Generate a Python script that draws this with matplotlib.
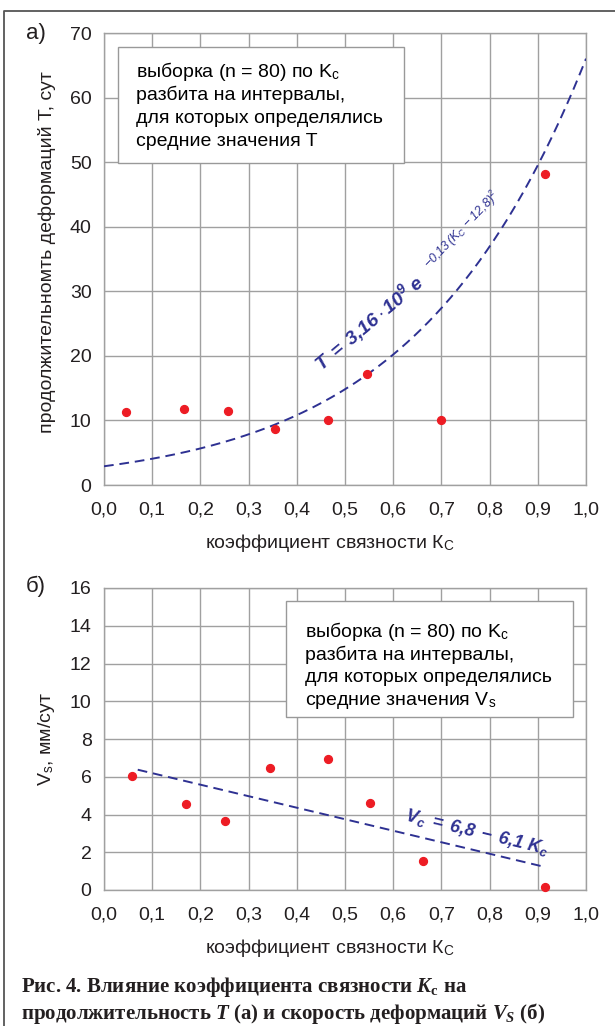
import numpy as np
import matplotlib.pyplot as plt
from matplotlib.patches import Rectangle
from matplotlib.lines import Line2D

plt.rcParams['font.family'] = ['Liberation Sans', 'DejaVu Sans']
plt.rcParams['mathtext.fontset'] = 'custom'
plt.rcParams['mathtext.rm'] = 'Liberation Sans'
plt.rcParams['mathtext.bf'] = 'Liberation Sans:bold:italic'
plt.rcParams['mathtext.tt'] = 'Liberation Sans:italic'
plt.rcParams['mathtext.it'] = 'Liberation Serif:bold:italic'
plt.rcParams['mathtext.sf'] = 'Liberation Serif:bold'

# а) продолжительность T от Kc (средние по интервалам)
kc_a = [0.046, 0.167, 0.258, 0.355, 0.465, 0.546, 0.699, 0.915]
t_a = [11.3, 11.7, 11.4, 8.6, 10.0, 17.2, 10.1, 48.1]
# тренд: ln T = c0 + c1*K + c2*K^2
trend_a_coef = [1.065, 3.40, -0.275]

# б) скорость деформаций Vs от Kc
kc_b = [0.059, 0.171, 0.251, 0.344, 0.465, 0.552, 0.661, 0.914]
vs_b = [6.05, 4.56, 3.63, 6.49, 6.96, 4.63, 1.51, 0.15]
trend_b_coef = [6.8, -6.1]
trend_b_range = [0.07, 0.915]

x_ticks = [0.0, 0.1, 0.2, 0.3, 0.4, 0.5, 0.6, 0.7, 0.8, 0.9, 1.0]
x_ticklabels = ['0,0', '0,1', '0,2', '0,3', '0,4', '0,5', '0,6', '0,7', '0,8', '0,9', '1,0']
y_ticks_a = [0, 10, 20, 30, 40, 50, 60, 70]
y_ticks_b = [0, 2, 4, 6, 8, 10, 12, 14, 16]

box_lines_a = ['выборка (n = 80) по K$_\\mathrm{c}$',
               'разбита на интервалы,',
               'для которых определялись',
               'средние значения T']
box_lines_b = ['выборка (n = 80) по K$_\\mathrm{c}$',
               'разбита на интервалы,',
               'для которых определялись',
               'средние значения V$_\\mathrm{s}$']

NAVY = '#2E3192'
RED = '#ED1C24'
GRID = '#A0A0A0'
INK = '#231F20'
FS = 14

W, H = 615, 1026
fig = plt.figure(figsize=(W / 100, H / 100), dpi=100)


def px(x, y):
    return x / W, 1 - y / H


def setup(ax, yticks):
    ax.set_xlim(0, 1)
    ax.set_ylim(yticks[0], yticks[-1])
    ax.set_xticks(x_ticks)
    ax.set_xticklabels(x_ticklabels)
    ax.set_yticks(yticks)
    ax.tick_params(length=0, labelsize=FS, colors=INK)
    ax.tick_params(axis='x', pad=12)
    ax.tick_params(axis='y', pad=9)
    ax.grid(True, color=GRID, lw=1.0)
    ax.set_axisbelow(True)
    for s in ax.spines.values():
        s.set_color(GRID)
        s.set_linewidth(1.0)


# ---------- a) ----------
ax1 = fig.add_axes([104 / W, 1 - 485 / H, 482 / W, 452 / H])
setup(ax1, y_ticks_a)
xs = np.linspace(0, 1, 200)
ax1.plot(xs, np.exp(trend_a_coef[0] + trend_a_coef[1] * xs + trend_a_coef[2] * xs ** 2),
         color=NAVY, lw=1.4, dashes=(5, 3), zorder=3)
ax1.scatter(kc_a, t_a, s=32, color=RED, zorder=5, clip_on=False)
ax1.add_patch(Rectangle((0.029, 49.8), 0.594, 18.0, facecolor='white',
                        edgecolor='#999999', lw=1.0, zorder=4))
for i, line in enumerate(box_lines_a):
    ax1.text(0.066, 64.05 - i * 3.62, line, fontsize=FS, va='center', zorder=6)
ax1.text(0.45, 17.6, r'$\mathbf{T\ =\ 3{,}16\cdot 10^{9}\ e}$',
         color=NAVY, fontsize=14, rotation=40, rotation_mode='anchor',
         ha='left', va='baseline', zorder=6)
ax1.text(0.676, 33.4, r'$\mathtt{-0{,}13\,(K_C\,-\,12{,}8)^2}$',
         color=NAVY, fontsize=9, rotation=46, rotation_mode='anchor',
         ha='left', va='baseline', zorder=6)

# ---------- б) ----------
ax2 = fig.add_axes([104 / W, 1 - 890 / H, 482 / W, 302 / H])
setup(ax2, y_ticks_b)
xb = np.array(trend_b_range)
ax2.plot(xb, trend_b_coef[0] + trend_b_coef[1] * xb,
         color=NAVY, lw=1.4, dashes=(5, 3), zorder=3)
ax2.scatter(kc_b, vs_b, s=32, color=RED, zorder=5, clip_on=False)
ax2.add_patch(Rectangle((0.377, 9.18), 0.595, 6.12, facecolor='white',
                        edgecolor='#999999', lw=1.0, zorder=4))
for i, line in enumerate(box_lines_b):
    ax2.text(0.417, 13.71 - i * 1.23, line, fontsize=FS, va='center', zorder=6)
ax2.text(0.622, 3.7, r'$\mathbf{V_c\ =\ 6{,}8\ -\ 6{,}1\ K_c}$',
         color=NAVY, fontsize=13, rotation=-13.5, rotation_mode='anchor',
         ha='left', va='baseline', zorder=6)

# ---------- подписи ----------
fig.text(*px(47, 252), 'продолжительномть деформаций Т, сут', rotation=90,
         ha='center', va='center', fontsize=FS, color=INK)
fig.text(*px(47, 739), 'V$_\\mathrm{s}$, мм/сут', rotation=90,
         ha='center', va='center', fontsize=FS, color=INK)
fig.text(*px(330, 543), 'коэффициент связности К$_\\mathrm{C}$',
         ha='center', va='center', fontsize=FS, color=INK)
fig.text(*px(330, 948), 'коэффициент связности К$_\\mathrm{C}$',
         ha='center', va='center', fontsize=FS, color=INK)
fig.text(*px(36, 33), 'а)', ha='center', va='center', fontsize=16, color=INK)
fig.text(*px(36, 586), 'б)', ha='center', va='center', fontsize=16, color=INK)

fig.text(*px(21, 987), r'Рис. 4. Влияние коэффициента связности $K_\mathsf{c}$ на',
         ha='left', va='center', fontsize=15, family='Liberation Serif',
         weight='bold', color=INK)
fig.text(*px(21, 1014), r'продолжительность $T$ (а) и скорость деформаций $V_S$ (б)',
         ha='left', va='center', fontsize=15, family='Liberation Serif',
         weight='bold', color=INK)

# рамка
fig.add_artist(Line2D([4 / W, 4 / W, 1], [0, 1 - 11 / H, 1 - 11 / H],
                      transform=fig.transFigure, color='#555555', lw=1.3))

fig.savefig('out.png', dpi=100)
